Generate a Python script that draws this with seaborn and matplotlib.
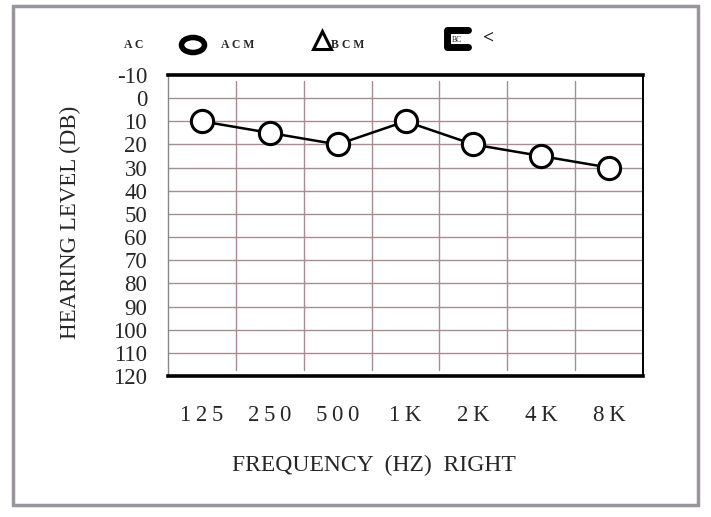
import matplotlib
matplotlib.use("Agg")
import matplotlib.pyplot as plt
import seaborn as sns
import pandas as pd
from matplotlib.lines import Line2D
from matplotlib.patches import Rectangle, Ellipse

# audiogram values, right ear (AC)
freqs = ["125", "250", "500", "1K", "2K", "4K", "8K"]
levels = [10, 15, 20, 10, 20, 25, 30]
yticks = list(range(-10, 121, 10))

df = pd.DataFrame({"freq": freqs, "level": levels})

sns.set_style("white")
plt.rcParams["font.family"] = ["Liberation Serif", "DejaVu Serif"]

W, H = 711, 517
fig = plt.figure(figsize=(W / 100, H / 100), dpi=100)
ax = fig.add_axes([168 / W, 1 - 376 / H, (643 - 168) / W, (376 - 75) / H])

grid_col = "#a88c92"
for y in yticks[1:-1]:
    ax.axhline(y, color=grid_col, lw=1.0, zorder=0)
for x in [0.5, 1.5, 2.5, 3.5, 4.5, 5.5]:
    ax.axvline(x, ymin=0.02, ymax=0.98, color=grid_col, lw=1.0, zorder=0)

sns.lineplot(data=df, x="freq", y="level", sort=False, ax=ax, color="black",
             linewidth=1.8, marker="o", markersize=16, markerfacecolor="white",
             markeredgecolor="black", markeredgewidth=2.2, zorder=3)

ax.set_xlim(-0.5, 6.5)
ax.set_ylim(120, -10)
ax.set_yticks(yticks)
ax.set_yticklabels([str(v) for v in yticks], fontsize=16.5)
ax.set_xticks(range(len(freqs)))
# scanned labels are letter-spaced
ax.set_xticklabels(["\u2009".join(f) for f in freqs], fontsize=16.5)
ax.tick_params(axis="both", length=0)
ax.tick_params(axis="y", pad=15)
ax.tick_params(axis="x", pad=21)
ax.set_xlabel("")
ax.set_ylabel("")

for side in ["top", "bottom"]:
    ax.spines[side].set_linewidth(2.6)
    ax.spines[side].set_color("black")
ax.spines["right"].set_linewidth(1.4)
ax.spines["right"].set_color("black")
ax.spines["left"].set_linewidth(1.0)
ax.spines["left"].set_color("#888888")

fig.text(70 / W, 1 - 222 / H, "HEARING LEVEL (DB)", fontsize=16.5,
         rotation=90, ha="center", va="center")
fig.text(374 / W, 1 - 465 / H, "FREQUENCY  (HZ)  RIGHT", fontsize=17,
         ha="center", va="center")

# legend strip at the top
ly = 1 - 45 / H
fig.text(124 / W, ly, "A C", fontsize=8.5, fontweight="bold", va="center")
fig.add_artist(Ellipse((193 / 100, (H - 45) / 100), 0.23, 0.15,
                       transform=fig.dpi_scale_trans, fill=False,
                       edgecolor="black", linewidth=4))
fig.text(221 / W, ly, "A C M", fontsize=8.5, fontweight="bold", va="center")
fig.add_artist(Line2D([322 / W], [1 - 40 / H], marker="^", markersize=13,
                      markerfacecolor="white", markeredgecolor="black",
                      markeredgewidth=2.2, transform=fig.transFigure))
fig.text(331 / W, ly, "B C M", fontsize=8.5, fontweight="bold", va="center")
fig.add_artist(Line2D([468 / W, 447 / W, 447 / W, 468 / W],
                      [1 - 30 / H, 1 - 30 / H, 1 - 47 / H, 1 - 47 / H],
                      color="black", linewidth=5, transform=fig.transFigure))
fig.text(452 / W, 1 - 40 / H, "BC", fontsize=5.5, va="center")
fig.text(483 / W, 1 - 38 / H, "<", fontsize=14, fontweight="bold", va="center")

# scanned page frame
fig.add_artist(Rectangle((13 / W, 1 - 505 / H), (698 - 13) / W, (505 - 6) / H,
                         transform=fig.transFigure, fill=False,
                         edgecolor="#9a949c", linewidth=2.5))

fig.savefig("out.png", dpi=100)
